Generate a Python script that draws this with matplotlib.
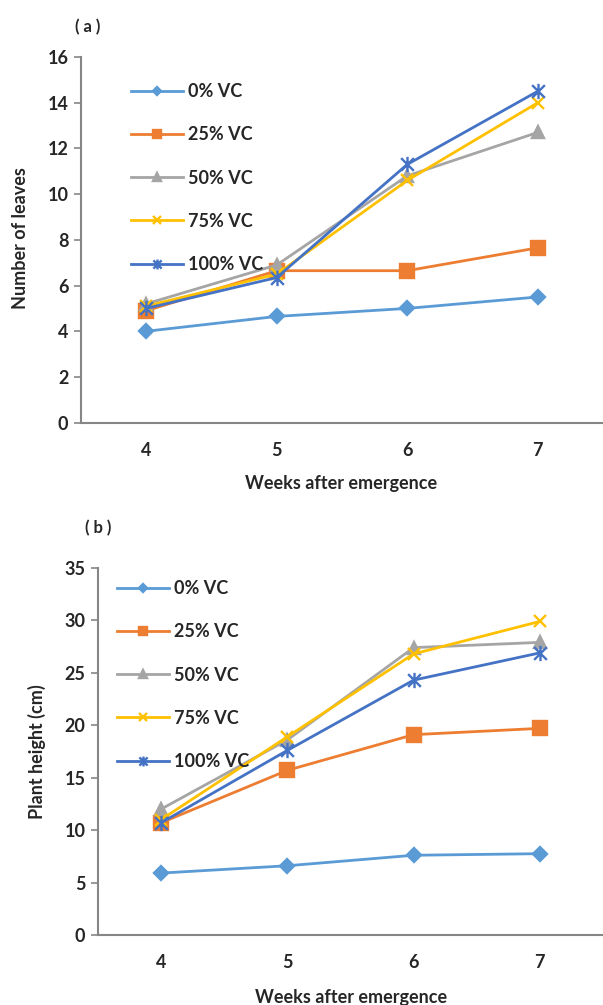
import matplotlib
matplotlib.use("Agg")
import matplotlib.pyplot as plt
from matplotlib.path import Path

plt.rcParams['font.family'] = ['Lato', 'DejaVu Sans']
plt.rcParams['font.weight'] = 'bold'

# ---------------- DATA ----------------
weeks = [4, 5, 6, 7]
labels = ["0% VC", "25% VC", "50% VC", "75% VC", "100% VC"]

leaves_0 = [4.0, 4.65, 5.0, 5.5]
leaves_25 = [4.9, 6.65, 6.65, 7.65]
leaves_50 = [5.2, 6.9, 10.8, 12.7]
leaves_75 = [5.1, 6.5, 10.6, 14.0]
leaves_100 = [5.0, 6.35, 11.3, 14.5]

height_0 = [5.9, 6.6, 7.6, 7.75]
height_25 = [10.7, 15.7, 19.1, 19.7]
height_50 = [12.0, 18.6, 27.4, 27.9]
height_75 = [11.0, 18.9, 26.8, 29.9]
height_100 = [10.7, 17.6, 24.3, 26.9]

# ---------------- STYLE ----------------
colors = ["#5B9BD5", "#ED7D31", "#A5A5A5", "#FFC000", "#4472C4"]
# excel-like asterisk: an x with a vertical bar
asterisk = Path([(-1, -1), (1, 1), (-1, 1), (1, -1), (0, -1.2), (0, 1.2)],
                [Path.MOVETO, Path.LINETO, Path.MOVETO, Path.LINETO, Path.MOVETO, Path.LINETO])
markers = ["D", "s", "^", "x", asterisk]
msizes = [7, 9.5, 8, 8, 11]
AXIS_COLOR = "#868686"
TEXT_COLOR = "#262626"
FS = 13


def draw_panel(ax, series, ymax, ystep, legend_anchor):
    for vals, lab, c, m, ms in zip(series, labels, colors, markers, msizes):
        ax.plot(weeks, vals, color=c, lw=2.0, marker=m, markersize=ms,
                markeredgewidth=1.7, label=lab)
    ax.set_xlim(3.5, 7.5)
    ax.set_ylim(0, ymax)
    ax.set_xticks(weeks)
    ax.set_yticks(range(0, ymax + 1, ystep))
    for s in ["top", "right"]:
        ax.spines[s].set_visible(False)
    for s in ["left", "bottom"]:
        ax.spines[s].set_color(AXIS_COLOR)
        ax.spines[s].set_linewidth(1.5)
    ax.tick_params(axis="y", length=5, width=1.2, color=AXIS_COLOR,
                   labelsize=FS, labelcolor=TEXT_COLOR, pad=4)
    ax.tick_params(axis="x", length=0, labelsize=FS, labelcolor=TEXT_COLOR, pad=14)
    ax.legend(loc="center left", bbox_to_anchor=legend_anchor,
              bbox_transform=fig.transFigure, frameon=False,
              fontsize=FS, handlelength=2.9, handletextpad=0.25, markerscale=0.65,
              labelspacing=1.45, borderaxespad=0, borderpad=0, labelcolor=TEXT_COLOR)


fig = plt.figure(figsize=(6.03, 10.05), dpi=100)

ax1 = fig.add_axes([0.1343, 0.5794, 0.8657, 0.3639])
draw_panel(ax1, [leaves_0, leaves_25, leaves_50, leaves_75, leaves_100], 16, 2,
           (131 / 603, 1 - 178 / 1005))

ax2 = fig.add_axes([0.1625, 0.0697, 0.8375, 0.3652])
draw_panel(ax2, [height_0, height_25, height_50, height_75, height_100], 35, 5,
           (117 / 603, 1 - 675 / 1005))

# ---------------- LABELS ----------------
fig.text(88 / 603, 1 - 27 / 1005, "( a )", ha="center", va="center", fontsize=12, color=TEXT_COLOR)
fig.text(98 / 603, 1 - 528 / 1005, "( b )", ha="center", va="center", fontsize=12, color=TEXT_COLOR)
fig.text(21 / 603, 1 - 238 / 1005, "Number of leaves", rotation=90, ha="center", va="center",
         fontsize=FS, color=TEXT_COLOR)
fig.text(37 / 603, 1 - 752 / 1005, "Plant height (cm)", rotation=90, ha="center", va="center",
         fontsize=FS, color=TEXT_COLOR)
fig.text(341 / 603, 1 - 483 / 1005, "Weeks after emergence", ha="center", va="center",
         fontsize=FS, color=TEXT_COLOR)
fig.text(351 / 603, 1 - 997 / 1005, "Weeks after emergence", ha="center", va="center",
         fontsize=FS, color=TEXT_COLOR)

fig.savefig("out.png", dpi=100)
